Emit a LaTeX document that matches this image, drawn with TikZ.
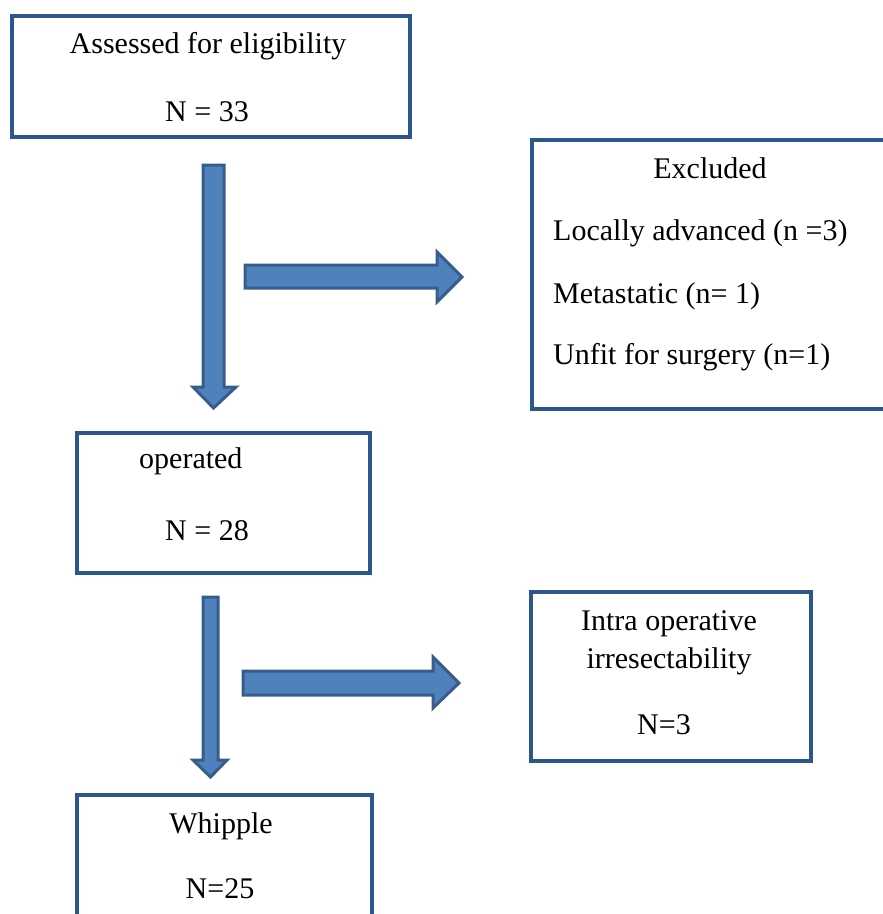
\documentclass[tikz,border=0pt]{standalone}
\usepackage{fontspec}
\setmainfont{Liberation Serif}
\definecolor{boxblue}{RGB}{44,86,140}
\definecolor{arrowfill}{RGB}{79,129,189}
\definecolor{arrowline}{RGB}{56,93,138}
\begin{document}
\begin{tikzpicture}[x=1pt,y=-1pt,
  box/.style={draw=boxblue, line width=4pt, rectangle, inner sep=0pt},
  txt/.style={anchor=base, inner sep=0pt, font=\fontsize{30}{36}\selectfont},
  blockarrow/.style={fill=arrowfill, draw=arrowline, line width=3pt, line join=miter}]
\useasboundingbox (0,0) rectangle (883,914);
% boxes
\node[box, minimum width=398.5pt, minimum height=121.5pt] (assess) at (210.75,76.25) {};
\node[box, minimum width=358pt, minimum height=269pt] (excl) at (711,274.5) {};
\node[box, minimum width=293pt, minimum height=140pt] (oper) at (223.5,503) {};
\node[box, minimum width=280pt, minimum height=169pt] (intra) at (671,676.5) {};
\node[box, minimum width=295pt, minimum height=135.5pt] (whip) at (224,862.25) {};
% block arrows
\draw[blockarrow] (203,165) -- (224,165) -- (224,387) -- (236,387) -- (213.5,408) -- (193,387) -- (203,387) -- cycle;
\draw[blockarrow] (245,265) -- (437,265) -- (437,252) -- (462,277) -- (437,302) -- (437,288) -- (245,288) -- cycle;
\draw[blockarrow] (203,597) -- (218,597) -- (218,760) -- (227,760) -- (210.5,777) -- (193,760) -- (203,760) -- cycle;
\draw[blockarrow] (243,671) -- (433,671) -- (433,657) -- (459,683) -- (433,708) -- (433,695) -- (243,695) -- cycle;
% texts
\node[txt] (t1) at (208,53) {Assessed for eligibility};
\node[txt] (t2) at (207,121) {N = 33};
\node[txt] (t3) at (710,178) {Excluded};
\node[txt, anchor=base west] (t4) at (553,240) {Locally advanced (n =3)};
\node[txt, anchor=base west] (t5) at (553,303) {Metastatic (n= 1)};
\node[txt, anchor=base west] (t6) at (553,364) {Unfit for surgery (n=1)};
\node[txt, anchor=base west] (t7) at (139,468) {operated};
\node[txt] (t8) at (207,540) {N = 28};
\node[txt] (t9) at (669,630) {Intra operative};
\node[txt] (t10) at (669,668) {irresectability};
\node[txt] (t11) at (664,734) {N=3};
\node[txt] (t12) at (221,833) {Whipple};
\node[txt] (t13) at (220,898) {N=25};
\end{tikzpicture}
\end{document}
